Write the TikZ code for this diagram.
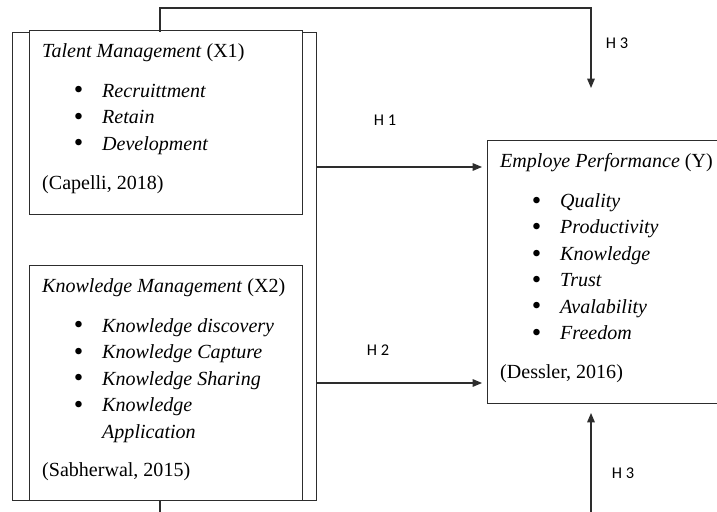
\documentclass[tikz,border=0pt]{standalone}
\usepackage{fontspec}
\setmainfont{Liberation Serif}
\newfontfamily\hypfont{Carlito}
\usepackage{tikz}
\usetikzlibrary{arrows.meta,positioning}
\definecolor{ln}{RGB}{45,45,45}
\newcommand{\itm}[1]{\hspace*{0.95cm}\makebox[0.85cm][l]{\raisebox{-0.08em}{\scalebox{1.35}{\textbullet}}}\textit{#1}}

\begin{document}
\begin{tikzpicture}[
  box/.style={draw=ln,line width=0.9pt,fill=white,anchor=north west,inner sep=0pt},
  txt/.style={align=left,inner sep=0pt,font=\fontsize{17.1}{22.6}\selectfont},
  hyp/.style={font=\hypfont\fontsize{14}{16}\selectfont},
  link/.style={draw=ln,line width=0.9pt},
  arr/.style={link,-{Triangle[length=8pt,width=6.5pt]}}]
  \useasboundingbox (0,0) rectangle (21.51,15.33);
  \clip (0,0) rectangle (21.51,15.33);
  % frame around both independent variables
  \node[box,minimum width=9.12cm,minimum height=14.04cm] (frame) at (0.36,14.37) {};
  \node[box,minimum width=8.19cm,minimum height=5.52cm] (tm) at (0.87,14.43) {};
  \node[box,minimum width=8.19cm,minimum height=7.05cm] (km) at (0.87,7.38) {};
  \node[box,minimum width=8cm,minimum height=7.89cm] (perf) at (14.61,11.13) {};
  \node[txt,below right=0.4cm and 0.39cm of tm.north west] (tmtxt) {\textit{Talent Management} (X1)\\[0.4cm]
    \itm{Recruittment}\\ \itm{Retain}\\ \itm{Development}\\[0.37cm] (Capelli, 2018)};
  \node[txt,below right=0.4cm and 0.39cm of km.north west] (kmtxt) {\textit{Knowledge Management} (X2)\\[0.4cm]
    \itm{Knowledge discovery}\\ \itm{Knowledge Capture}\\ \itm{Knowledge Sharing}\\ \itm{Knowledge}\\
    \hspace*{1.8cm}\textit{Application}\\[0.37cm] (Sabherwal, 2015)};
  \node[txt,below right=0.4cm and 0.39cm of perf.north west] (perftxt) {\textit{Employe Performance} (Y)\\[0.4cm]
    \itm{Quality}\\ \itm{Productivity}\\ \itm{Knowledge}\\ \itm{Trust}\\ \itm{Avalability}\\ \itm{Freedom}\\[0.37cm] (Dessler, 2016)};
  % hypotheses
  \coordinate (h1) at (0,10.32); \coordinate (h2) at (0,3.84);
  \draw[arr,shorten >=0.15cm] (frame.east |- h1) -- (perf.west |- h1);
  \draw[arr,shorten >=0.15cm] (frame.east |- h2) -- (perf.west |- h2);
  \coordinate (t1) at (4.80,15.09); \coordinate (t2) at (17.73,12.69);
  \draw[arr] (frame.north -| t1) -- (t1) -| (t2);
  \coordinate (b1) at (4.80,-0.2); \coordinate (b2) at (17.73,-0.2); \coordinate (b3) at (17.73,2.94);
  \draw[link] (frame.south -| b1) -- (b1);
  \draw[arr] (b2) -- (b3);
  \node[hyp] (lh1) at (11.55,11.73) {H 1};
  \node[hyp] (lh2) at (11.34,4.83) {H 2};
  \node[hyp] (lh3a) at (18.51,14.04) {H 3};
  \node[hyp] (lh3b) at (18.69,1.14) {H 3};
\end{tikzpicture}
\end{document}
